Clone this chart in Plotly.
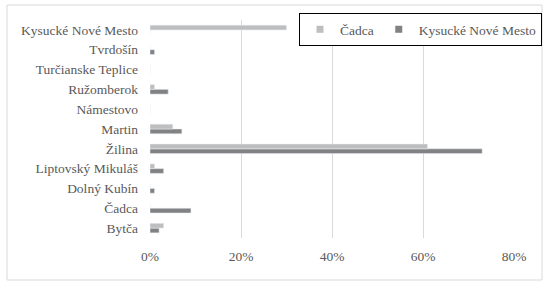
import plotly.graph_objects as go

categories = ["Bytča", "Čadca", "Dolný Kubín", "Liptovský Mikuláš", "Žilina", "Martin",
              "Námestovo", "Ružomberok", "Turčianske Teplice", "Tvrdošín", "Kysucké Nové Mesto"]
cadca = [0.03, 0.0, 0.0, 0.01, 0.61, 0.05, 0.0, 0.01, 0.0, 0.0, 0.30]
knm = [0.02, 0.09, 0.01, 0.03, 0.73, 0.07, 0.0, 0.04, 0.0, 0.01, 0.0]
x_ticks = [0, 0.2, 0.4, 0.6, 0.8]
x_tick_labels = ["0%", "20%", "40%", "60%", "80%"]

FONT = "Liberation Serif"
C_CADCA = "#BEBEBE"
C_KNM = "#828282"
W, H = 550, 288
L, R, T, B = 150, 36, 20, 50
pw, ph = W - L - R, H - T - B

def px_x(p):
    return (p - L) / pw

def px_y(p):
    return (H - B - p) / ph

fig = go.Figure()
fig.add_trace(go.Bar(y=categories, x=knm, orientation="h", name="Kysucké Nové Mesto",
                     marker_color=C_KNM, showlegend=False))
fig.add_trace(go.Bar(y=categories, x=cadca, orientation="h", name="Čadca",
                     marker_color=C_CADCA, showlegend=False))
# legend entries with small square swatches
fig.add_trace(go.Scatter(x=[None], y=[None], mode="markers", name="Čadca",
                         marker=dict(symbol="square", size=7, color=C_CADCA), legendrank=1))
fig.add_trace(go.Scatter(x=[None], y=[None], mode="markers", name="Kysucké Nové Mesto",
                         marker=dict(symbol="square", size=7, color=C_KNM), legendrank=2))

fig.update_layout(
    width=W, height=H,
    margin=dict(l=L, r=R, t=T, b=B, autoexpand=False),
    paper_bgcolor="white", plot_bgcolor="white",
    barmode="group", bargap=0.52, bargroupgap=0,
    font=dict(family=FONT, size=13.5, color="#595959"),
    xaxis=dict(range=[0, 0.8], tickvals=x_ticks, ticktext=x_tick_labels, automargin=False,
               showgrid=True, gridcolor="#D9D9D9", gridwidth=1, zeroline=False,
               showline=False, ticks="", ticklabelstandoff=8,
               tickfont=dict(family=FONT, size=13.5, color="#595959")),
    yaxis=dict(showgrid=False, showline=False, ticks="", ticklabelstandoff=11, automargin=False,
               tickfont=dict(family=FONT, size=13.5, color="#595959")),
    legend=dict(orientation="h", x=px_x(542), xanchor="right", y=px_y(13), yanchor="top",
                bordercolor="black", borderwidth=1, bgcolor="white", itemwidth=30,
                tracegroupgap=0, font=dict(family=FONT, size=13.5, color="#595959")),
    shapes=[dict(type="rect", xref="paper", yref="paper",
                 x0=px_x(7), x1=px_x(542), y0=px_y(280), y1=px_y(5),
                 line=dict(color="#D9D9D9", width=1), layer="below")],
)

fig.write_html("out.html", config={"displayModeBar": False},
               post_script="document.body.style.margin='0';")
